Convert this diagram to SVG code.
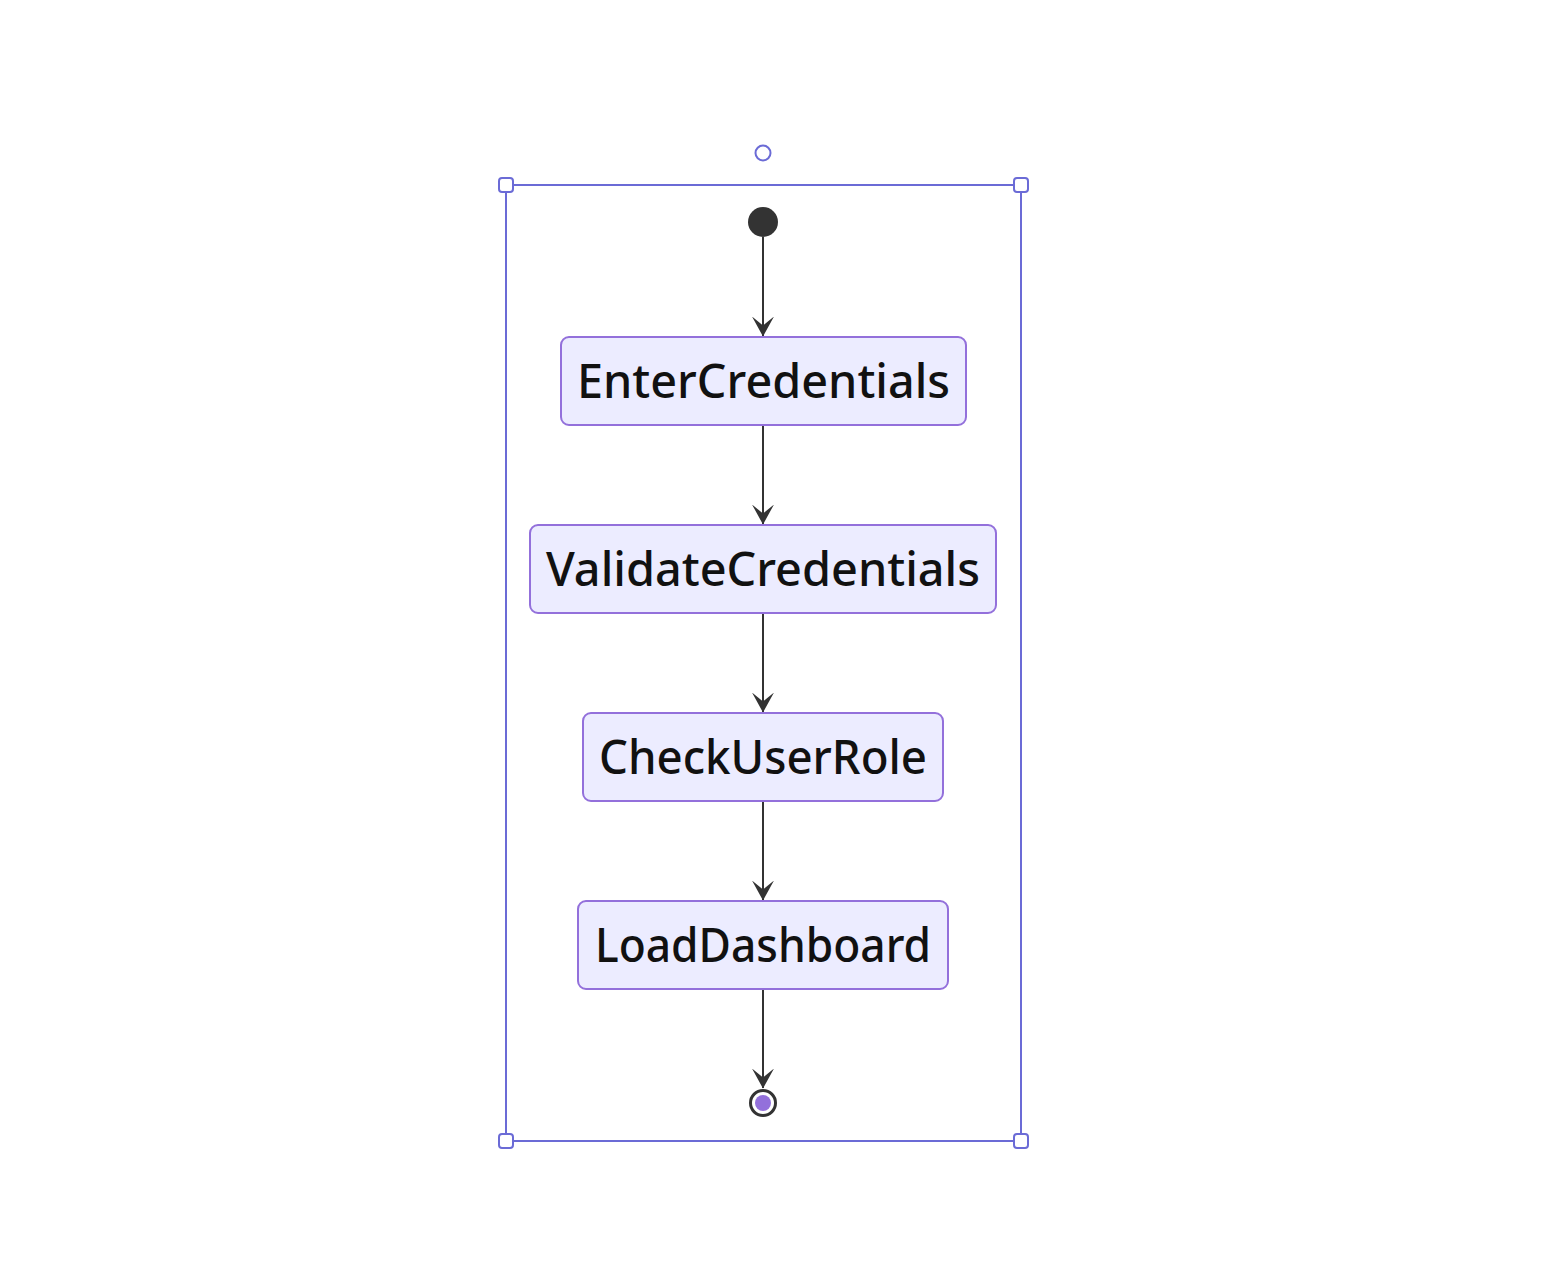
<svg xmlns="http://www.w3.org/2000/svg" width="1544" height="1278" viewBox="0 0 1544 1278">
<defs>
<style>
.frame{fill:none;stroke:#6b6bd6;stroke-width:2}
.handle{fill:#fff;stroke:#6b6bd6;stroke-width:2}
.state rect{fill:#ECECFF;stroke:#9370DB;stroke-width:2}
.state text{font-family:"Noto Sans","DejaVu Sans",sans-serif;font-size:48px;font-weight:500;fill:#111;text-anchor:middle}
.edge{stroke:#333;stroke-width:2;fill:none;marker-end:url(#arr)}
</style>
<marker id="arr" viewBox="0 0 20 22" refX="19.5" refY="11" markerWidth="20" markerHeight="22" markerUnits="userSpaceOnUse" orient="auto">
<path d="M0,0 L20,11 L0,22 L9,11 Z" fill="#333"/>
</marker>
</defs>
<rect width="1544" height="1278" fill="#fff"/>
<g id="frame">
<rect class="frame" x="506" y="185" width="515" height="956"/>
<circle class="handle" cx="763" cy="153" r="7.5"/>
<rect class="handle" x="499" y="178" width="14" height="14" rx="3"/>
<rect class="handle" x="1014" y="178" width="14" height="14" rx="3"/>
<rect class="handle" x="499" y="1134" width="14" height="14" rx="3"/>
<rect class="handle" x="1014" y="1134" width="14" height="14" rx="3"/>
</g>
<g id="connectors">
<line class="edge" x1="763" y1="237" x2="763" y2="336"/>
<line class="edge" x1="763" y1="425" x2="763" y2="524"/>
<line class="edge" x1="763" y1="613" x2="763" y2="712"/>
<line class="edge" x1="763" y1="801" x2="763" y2="900"/>
<line class="edge" x1="763" y1="989" x2="763" y2="1088"/>
</g>
<g id="start"><circle cx="763" cy="222" r="15" fill="#333"/></g>
<g id="EnterCredentials" class="state">
<rect x="561" y="337" width="405" height="88" rx="8"/>
<text x="763.5" y="398" textLength="373" lengthAdjust="spacingAndGlyphs">EnterCredentials</text>
</g>
<g id="ValidateCredentials" class="state">
<rect x="530" y="525" width="466" height="88" rx="8"/>
<text x="763" y="586" textLength="434" lengthAdjust="spacingAndGlyphs">ValidateCredentials</text>
</g>
<g id="CheckUserRole" class="state">
<rect x="583" y="713" width="360" height="88" rx="8"/>
<text x="763" y="774" textLength="328" lengthAdjust="spacingAndGlyphs">CheckUserRole</text>
</g>
<g id="LoadDashboard" class="state">
<rect x="578" y="901" width="370" height="88" rx="8"/>
<text x="763" y="962" textLength="336" lengthAdjust="spacingAndGlyphs">LoadDashboard</text>
</g>
<g id="end">
<circle cx="763" cy="1103" r="12.5" fill="#fff" stroke="#333" stroke-width="3"/>
<circle cx="763" cy="1103" r="8" fill="#9370DB"/>
</g>
</svg>
